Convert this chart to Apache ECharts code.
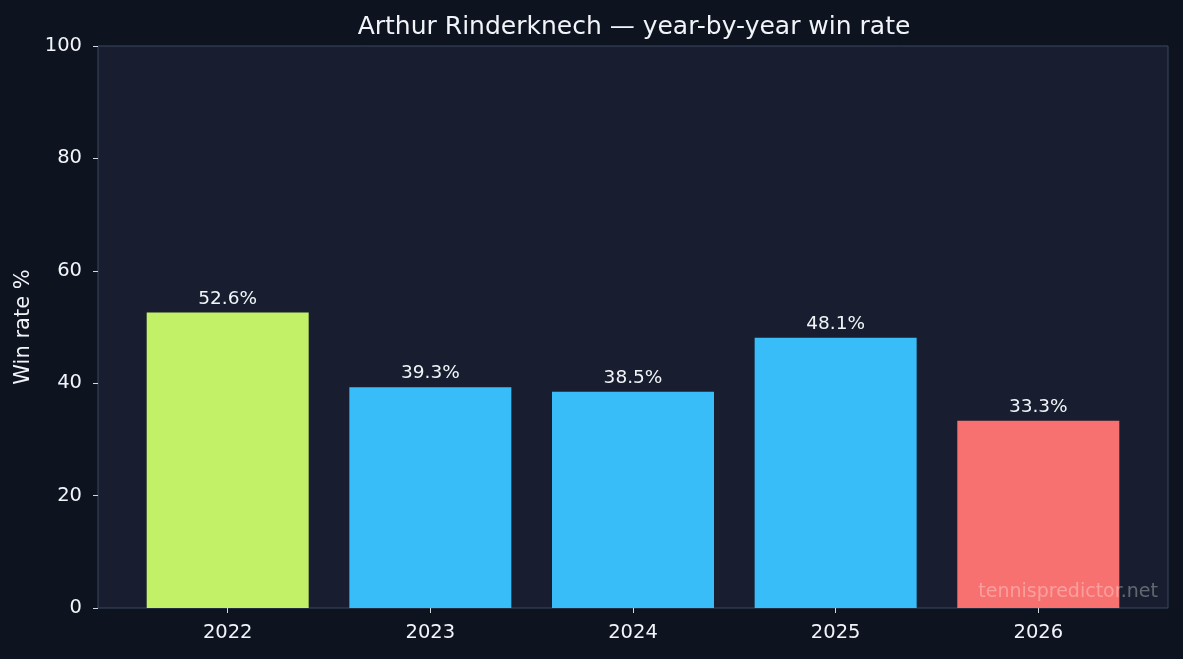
<!DOCTYPE html>
<html>
<head>
<meta charset="utf-8">
<script src="https://cdn.jsdelivr.net/npm/echarts@6/dist/echarts.min.js"></script>
<style>
  html, body { margin: 0; padding: 0; background: #0e1320; }
  #main { width: 1183px; height: 659px; }
</style>
</head>
<body>
<div id="main"></div>
<script>
// data
var years = ['2022', '2023', '2024', '2025', '2026'];
var winRate = [52.6, 39.3, 38.5, 48.1, 33.3];
var barColors = ['#c2f066', '#38bdf8', '#38bdf8', '#38bdf8', '#f87171'];
var yTicks = [0, 20, 40, 60, 80, 100];

var myChart = echarts.init(document.getElementById('main'));
var font = 'DejaVu Sans';

myChart.setOption({
    backgroundColor: '#0e1320',
    textStyle: { fontFamily: font },
    title: {
        text: 'Arthur Rinderknech \u2014 year-by-year win rate',
        left: 629,
        textAlign: 'center',
        top: 10,
        textStyle: { color: '#f1f5f9', fontSize: 25, fontWeight: 'normal', fontFamily: font }
    },
    grid: {
        left: 98, right: 15, top: 46, bottom: 51,
        show: true,
        backgroundColor: '#181e2f',
        borderColor: '#3a475e',
        borderWidth: 1
    },
    xAxis: {
        type: 'value',
        min: -0.64,
        max: 4.64,
        splitLine: { show: false },
        axisLine: { show: false, onZero: false },
        axisTick: {
            show: true, length: 5,
            lineStyle: { color: '#d4d8de' },
            customValues: [0, 1, 2, 3, 4]
        },
        axisLabel: {
            color: '#f1f5f9', fontSize: 19.5, margin: 15,
            customValues: [0, 1, 2, 3, 4],
            formatter: function (v) { return years[Math.round(v)]; }
        }
    },
    yAxis: {
        type: 'value',
        min: 0, max: 100, interval: 20,
        name: 'Win rate %',
        nameLocation: 'middle',
        nameGap: 59,
        nameTextStyle: { color: '#f1f5f9', fontSize: 21 },
        splitLine: { show: false },
        axisLine: { show: false, onZero: false },
        axisTick: { show: true, length: 5, lineStyle: { color: '#d4d8de' } },
        axisLabel: {
            color: '#f1f5f9', fontSize: 19.5, margin: 16,
            formatter: function (v) { return yTicks.indexOf(v) >= 0 ? String(v) : ''; }
        }
    },
    graphic: [{
        type: 'text',
        right: 25,
        bottom: 57,
        style: {
            text: 'tennispredictor.net',
            fill: 'rgba(255,255,255,0.32)',
            font: '19px "DejaVu Sans"'
        },
        z: 100
    }],
    series: [{
        type: 'bar',
        barWidth: 162,
        data: winRate.map(function (v, i) {
            return { value: [i, v], itemStyle: { color: barColors[i] } };
        }),
        label: {
            show: true,
            position: 'top',
            distance: 4,
            color: '#f1f5f9',
            fontSize: 18.5,
            formatter: function (p) { return p.value[1].toFixed(1) + '%'; }
        }
    }]
});
</script>
</body>
</html>
